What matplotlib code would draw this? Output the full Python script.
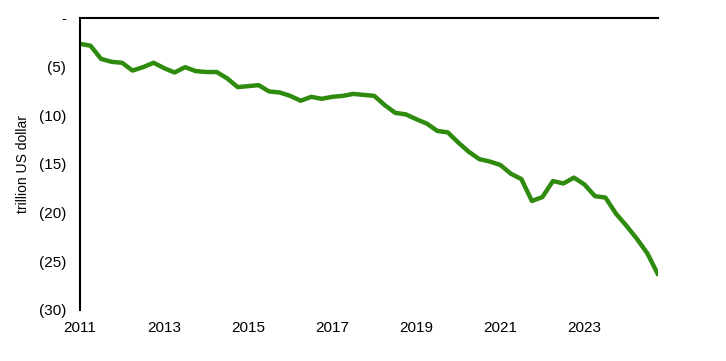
import matplotlib
matplotlib.use("Agg")
import matplotlib.pyplot as plt
import numpy as np
import pandas as pd

plt.rcParams['font.family'] = ['Liberation Sans', 'DejaVu Sans']

quarters = pd.period_range("2011Q1", "2024Q4", freq="Q")
values = [
    -2.65, -2.85, -4.2, -4.5, -4.6, -5.4, -5.05, -4.6, -5.15, -5.6,
    -5.05, -5.45, -5.55, -5.55, -6.2, -7.1, -7.0, -6.9, -7.55, -7.65,
    -8.0, -8.5, -8.1, -8.3, -8.1, -8.0, -7.8, -7.9, -8.0, -8.95,
    -9.75, -9.9, -10.4, -10.85, -11.6, -11.75, -12.8, -13.75, -14.5, -14.75,
    -15.1, -16.0, -16.55, -18.8, -18.4, -16.75, -17.0, -16.4, -17.1, -18.3,
    -18.45, -20.1, -21.35, -22.7, -24.2, -26.35,
]
yticks = [0, -5, -10, -15, -20, -25, -30]
ytick_labels = ["-", "(5)", "(10)", "(15)", "(20)", "(25)", "(30)"]
xtick_years = [2011, 2013, 2015, 2017, 2019, 2021, 2023]

x = np.array([q.year + (q.quarter - 1) / 4 for q in quarters])

fig = plt.figure(figsize=(7.26, 3.61), dpi=100)
ax = fig.add_axes([80/726, 1-310/361, (658-80)/726, (310-18)/361])
ax.plot(x, values, color="#2E8B0E", lw=3.2, solid_joinstyle="round", solid_capstyle="round")

ax.set_xlim(x[0], x[-1])
ax.set_ylim(-30, 0)
ax.set_yticks(yticks)
ax.set_yticklabels(ytick_labels)
ax.set_xticks(xtick_years)
ax.set_xticklabels([str(y) for y in xtick_years])
ax.tick_params(axis="both", length=0, labelsize=11, colors="black")
ax.tick_params(axis="y", pad=10)
ax.tick_params(axis="x", pad=8)
for s in ["right", "bottom"]:
    ax.spines[s].set_visible(False)
for s in ["top", "left"]:
    ax.spines[s].set_linewidth(1.5)
    ax.spines[s].set_color("black")
ax.set_ylabel("trillion US dollar", fontsize=10, labelpad=6)

fig.savefig("out.png", dpi=100)
